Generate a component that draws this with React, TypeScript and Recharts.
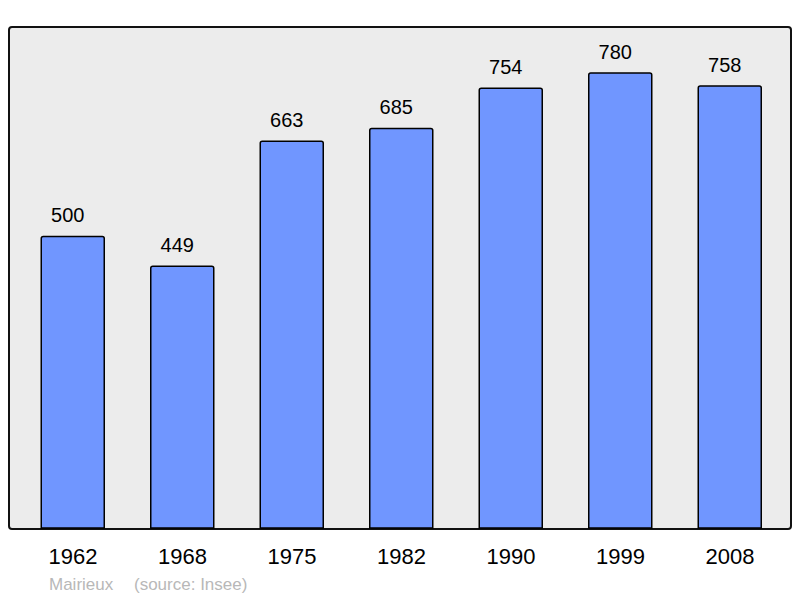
import { BarChart, Bar, XAxis, YAxis, LabelList } from 'recharts'

// population by census year
const years = ['1962', '1968', '1975', '1982', '1990', '1999', '2008']
const population = [500, 449, 663, 685, 754, 780, 758]

const commune = 'Mairieux'
const source = '(source: Insee)'

const data = years.map((year, i) => ({ year, population: population[i] }))

const FONT = '"Liberation Sans", Arial, sans-serif'

export default function App() {
  return (
    <div style={{ position: 'absolute', left: 0, top: 0, width: 800, height: 598, fontFamily: FONT }}>
      {/* plot frame */}
      <div
        style={{
          position: 'absolute',
          left: 8,
          top: 26,
          width: 784,
          height: 504,
          boxSizing: 'border-box',
          border: '2px solid #111',
          borderRadius: 4,
          background: '#ececec'
        }}
      />
      <div style={{ position: 'absolute', left: 0, top: 0 }}>
        <BarChart
          width={800}
          height={598}
          data={data}
          margin={{ top: 27, right: 15.25, left: 18.25, bottom: 0 }}
          barCategoryGap={0}
        >
          <XAxis
            dataKey="year"
            height={70}
            axisLine={false}
            tickLine={false}
            tickMargin={14}
            tick={{ fontSize: 22, fill: '#000', fontFamily: FONT }}
          />
          <YAxis hide domain={[0, 859]} />
          <Bar
            dataKey="population"
            fill="#7096ff"
            stroke="#000"
            strokeWidth={1.5}
            barSize={63}
            radius={[2, 2, 0, 0]}
            isAnimationActive={false}
          >
            <LabelList
              dataKey="population"
              position="top"
              offset={14}
              dx={-5}
              style={{ fontSize: 20, fill: '#000', fontFamily: FONT }}
            />
          </Bar>
        </BarChart>
      </div>
      <div
        style={{
          position: 'absolute',
          left: 49,
          top: 575,
          fontSize: 17,
          color: '#b8b8b8',
          whiteSpace: 'pre',
          lineHeight: '20px'
        }}
      >
        {commune}
      </div>
      <div
        style={{
          position: 'absolute',
          left: 134,
          top: 575,
          fontSize: 17,
          color: '#b8b8b8',
          whiteSpace: 'pre',
          lineHeight: '20px'
        }}
      >
        {source}
      </div>
    </div>
  )
}
